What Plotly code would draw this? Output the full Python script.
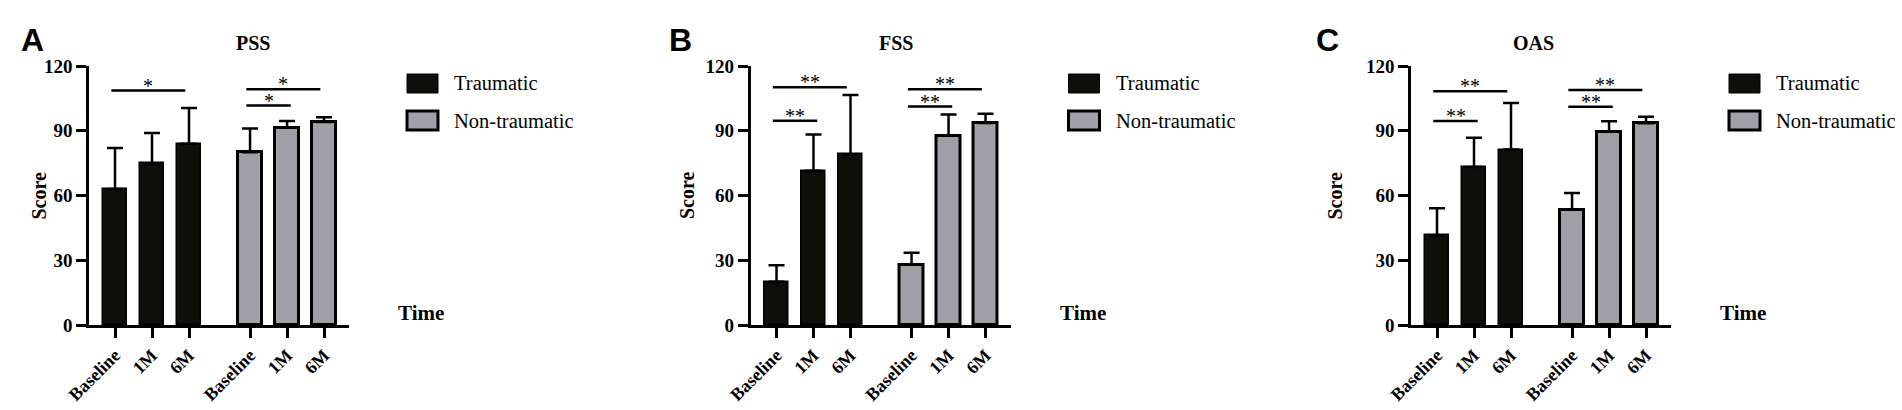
import plotly.graph_objects as go
from plotly.subplots import make_subplots

W, H = 1902, 410

timepoints = ["Baseline", "1M", "6M"]
groups = ["Traumatic", "Non-traumatic"]
panel_titles = ["PSS", "FSS", "OAS"]
panel_letters = ["A", "B", "C"]

# mean scores and SD (upper whisker only)
pss_trauma = [63, 75, 84]
pss_trauma_sd = [19, 14, 16.5]
pss_non = [80, 91.5, 94]
pss_non_sd = [11, 3, 2.3]

fss_trauma = [20, 71.5, 79]
fss_trauma_sd = [7.7, 16.8, 27.6]
fss_non = [28, 87.8, 93.6]
fss_non_sd = [5.5, 9.7, 4.3]

oas_trauma = [41.5, 73.2, 81.3]
oas_trauma_sd = [12.6, 13.6, 21.5]
oas_non = [53.5, 89.5, 93.5]
oas_non_sd = [7.7, 4.9, 3.0]

# significance brackets: (group, from timepoint, to timepoint, height, label)
pss_sig = [(0, 0, 2, 108.6, "*"), (1, 0, 2, 109.2, "*"), (1, 0, 1, 101.7, "*")]
fss_sig = [(0, 0, 2, 110.2, "**"), (0, 0, 1, 94.6, "**"),
           (1, 0, 2, 109.2, "**"), (1, 0, 1, 101.2, "**")]
oas_sig = [(0, 0, 2, 108.3, "**"), (0, 0, 1, 94.5, "**"),
           (1, 0, 2, 108.9, "**"), (1, 0, 1, 101.1, "**")]

y_ticks = [0, 30, 60, 90, 120]

panels = [
    (pss_trauma, pss_trauma_sd, pss_non, pss_non_sd, pss_sig),
    (fss_trauma, fss_trauma_sd, fss_non, fss_non_sd, fss_sig),
    (oas_trauma, oas_trauma_sd, oas_non, oas_non_sd, oas_sig),
]

# layout in pixels (GraphPad-like look)
axis_left = [89, 750.5, 1411]
axis_w = 260
y_top, y_bot = 66, 325
unit = 37          # px per bar slot
group_gap = 3.65   # x offset of the second group
bar_w = 0.65

serif = "Liberation Serif"
black = "#0e0e0b"
grey = "#a09fa6"


def px_x(v):
    return v / W


def px_y(v):
    return 1 - v / H


fig = make_subplots(rows=1, cols=3)

annotations = []
shapes = []
x_left = -26 / unit
x_right = x_left + axis_w / unit

for k, (tr, tr_sd, nt, nt_sd, sig) in enumerate(panels):
    row, col = 1, k + 1
    pos = [[i for i in range(3)], [i + group_gap for i in range(3)]]

    fig.add_trace(go.Bar(
        x=pos[0], y=tr, width=bar_w, name=groups[0],
        marker=dict(color=black, line=dict(color="black", width=1.5)),
        error_y=dict(type="data", array=tr_sd, arrayminus=[0] * 3, symmetric=False,
                     color="black", thickness=2.5, width=8),
        showlegend=False,
    ), row=row, col=col)
    fig.add_trace(go.Bar(
        x=pos[1], y=nt, width=bar_w, name=groups[1],
        marker=dict(color=grey, line=dict(color="black", width=3)),
        error_y=dict(type="data", array=nt_sd, arrayminus=[0] * 3, symmetric=False,
                     color="black", thickness=2.5, width=8),
        showlegend=False,
    ), row=row, col=col)

    x0 = axis_left[k]
    x1 = x0 + axis_w
    fig.update_xaxes(
        domain=[px_x(x0), px_x(x1)], range=[x_left, x_right],
        tickvals=pos[0] + pos[1], ticktext=timepoints * 2, tickangle=-45,
        tickfont=dict(family=serif, size=18, color="black", weight="bold"),
        showline=True, linecolor="black", linewidth=2.5,
        ticks="outside", ticklen=10, tickwidth=2.5, tickcolor="black",
        showgrid=False, zeroline=False, fixedrange=True, automargin=False,
        row=row, col=col,
    )
    fig.update_yaxes(
        domain=[px_y(y_bot), px_y(y_top)], range=[0, 120], tickvals=y_ticks,
        tickfont=dict(family=serif, size=19, color="black", weight="bold"),
        showline=True, linecolor="black", linewidth=2.5,
        ticks="outside", ticklen=10, tickwidth=2.5, tickcolor="black",
        showgrid=False, zeroline=False, fixedrange=True, automargin=False,
        row=row, col=col,
    )

    xref = "x" if k == 0 else f"x{k + 1}"
    yref = "y" if k == 0 else f"y{k + 1}"

    # significance brackets
    for g, i, j, yv, lab in sig:
        a = pos[g][i] - 0.1
        b = pos[g][j] + (0.1 if j - i == 1 else -0.1)
        shapes.append(dict(type="line", xref=xref, yref=yref, x0=a, x1=b, y0=yv, y1=yv,
                           line=dict(color="black", width=2.5)))
        annotations.append(dict(xref=xref, yref=yref, x=(a + b) / 2, y=yv, text=lab,
                                showarrow=False, yanchor="middle", yshift=5,
                                font=dict(family=serif, size=20, color="black")))

    # panel letter, title, axis titles
    annotations.append(dict(xref="paper", yref="paper", x=px_x(x0 - 70), y=px_y(20),
                            text=panel_letters[k], showarrow=False,
                            font=dict(family="Liberation Sans", size=32, color="black",
                                      weight="bold")))
    annotations.append(dict(xref="paper", yref="paper", x=px_x(x0 + 145), y=px_y(30),
                            text=panel_titles[k], showarrow=False,
                            font=dict(family=serif, size=20, color="black", weight="bold")))
    annotations.append(dict(xref="paper", yref="paper", x=px_x(x0 - 64),
                            y=px_y((y_top + y_bot) / 2), text="Score", textangle=-90,
                            showarrow=False,
                            font=dict(family=serif, size=20, color="black", weight="bold")))
    annotations.append(dict(xref="paper", yref="paper", x=px_x(x0 + 307), y=px_y(327),
                            text="Time", showarrow=False, xanchor="left",
                            font=dict(family=serif, size=21, color="black", weight="bold")))

    # legend drawn by hand so the swatches match the original size
    lx = x0 + 318
    for g, (ytop, fill, lw) in enumerate([(74, black, 1), (111, grey, 3)]):
        shapes.append(dict(type="rect", xref="paper", yref="paper",
                           x0=px_x(lx), x1=px_x(lx + 31), y0=px_y(ytop + 19), y1=px_y(ytop),
                           fillcolor=fill, line=dict(color="black", width=lw)))
        annotations.append(dict(xref="paper", yref="paper", x=px_x(lx + 45),
                                y=px_y(ytop + 9.5), text=groups[g], showarrow=False,
                                xanchor="left", yanchor="middle",
                                font=dict(family=serif, size=20.5, color="black")))

fig.update_layout(
    template="none",
    width=W, height=H,
    margin=dict(l=0, r=0, t=0, b=0, pad=0),
    plot_bgcolor="white", paper_bgcolor="white",
    bargap=0, showlegend=False,
    annotations=annotations, shapes=shapes,
)

# the page's default body margin would push the figure 8px in and clip its right edge
fig.write_html("out.html", config={"displayModeBar": False},
               post_script="document.body.style.margin='0';document.body.style.overflow='hidden';")
